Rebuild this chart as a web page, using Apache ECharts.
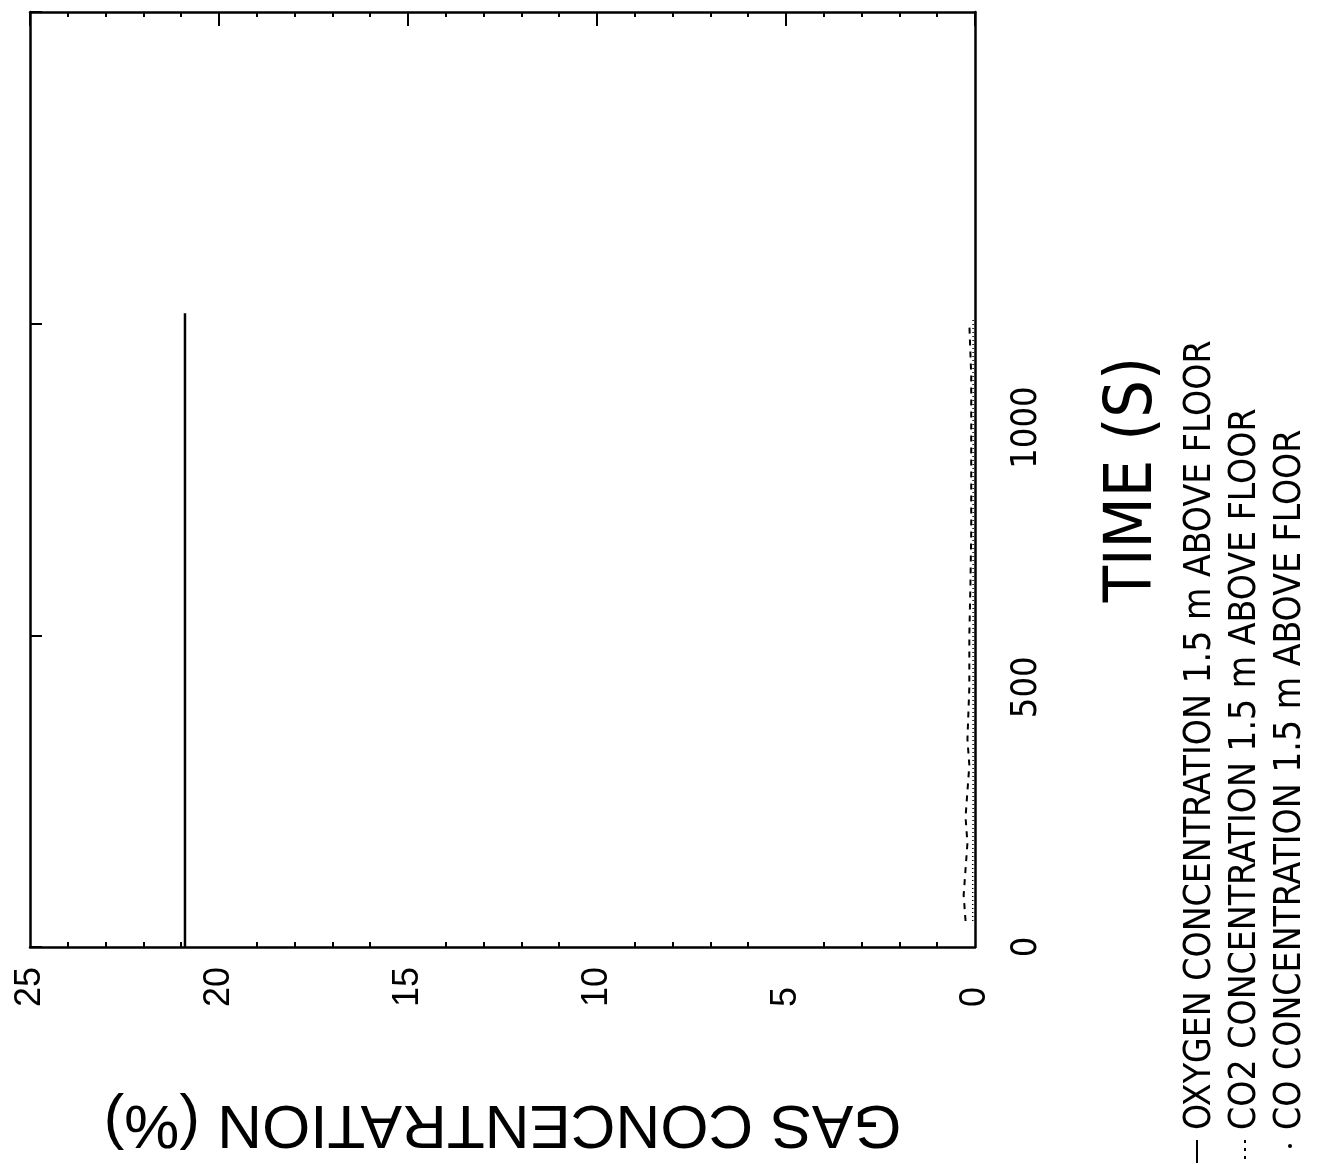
<!DOCTYPE html>
<html>
<head>
<meta charset="utf-8">
<script src="https://cdn.jsdelivr.net/npm/echarts@6/dist/echarts.min.js"></script>
<style>
html,body{margin:0;padding:0;background:#fff;}
#c{width:1322px;height:1165px;}
</style>
</head>
<body>
<div id="c"></div>
<script>
// ---- data (time in s, concentration in %) ----
var o2Time = [0, 100, 200, 300, 400, 500, 600, 700, 800, 900, 1000, 1100, 1220];
var o2Vals = [20.9, 20.9, 20.9, 20.9, 20.9, 20.9, 20.9, 20.9, 20.9, 20.9, 20.9, 20.9, 20.9];
var co2Time = [50, 100, 150, 200, 250, 300, 350, 400, 500, 600, 700, 800, 900, 1000, 1100, 1200];
var co2Vals = [0.25, 0.3, 0.25, 0.2, 0.25, 0.2, 0.15, 0.2, 0.15, 0.15, 0.12, 0.1, 0.1, 0.1, 0.1, 0.15];
var coTime = [50, 150, 250, 350, 450, 550, 650, 750, 850, 950, 1050, 1150, 1210];
var coVals = [0.06, 0.06, 0.05, 0.05, 0.05, 0.05, 0.05, 0.05, 0.05, 0.05, 0.05, 0.05, 0.05];
var concTicks = [0, 5, 10, 15, 20, 25];
var timeTicks = [0, 500, 1000, 1500];
var seriesNames = ['OXYGEN CONCENTRATION 1.5 m ABOVE FLOOR', 'CO2 CONCENTRATION 1.5 m ABOVE FLOOR', 'CO CONCENTRATION 1.5 m ABOVE FLOOR'];

function pairs(t, v) { return t.map(function (x, i) { return [v[i], x]; }); }

var REG = "'Liberation Sans', Arial, sans-serif";
var NAR = "'Liberation Sans Narrow', 'DejaVu Sans Condensed', 'Liberation Sans', sans-serif";

var chart = echarts.init(document.getElementById('c'), null, {renderer: 'canvas'});
var legendX = [1200, 1245, 1290];
var graphics = [
  {type: 'line', shape: {x1: 1197, y1: 1140, x2: 1197, y2: 1163}, style: {stroke: '#000', lineWidth: 2}},
  {type: 'line', shape: {x1: 1245, y1: 1140, x2: 1245, y2: 1163}, style: {stroke: '#000', lineWidth: 2, lineDash: [3, 5]}},
  {type: 'circle', shape: {cx: 1290, cy: 1146, r: 2}, style: {fill: '#000'}}
];
seriesNames.forEach(function (n, i) {
  graphics.push({
    type: 'text', x: legendX[i], y: 1130, rotation: Math.PI / 2,
    style: {text: n, fill: '#000', font: '37px ' + NAR, align: 'left', verticalAlign: 'middle', textAlign: 'left', textVerticalAlign: 'middle'}
  });
});

chart.setOption({
  animation: false,
  backgroundColor: '#fff',
  grid: {left: 30, right: 347, top: 12, bottom: 218, containLabel: false},
  xAxis: [
    {
      type: 'value', position: 'bottom', min: 0, max: 25, interval: 5, inverse: true,
      axisLine: {show: true, onZero: false, lineStyle: {color: '#000', width: 2.5}},
      axisTick: {show: false, inside: true},
      minorTick: {show: true, splitNumber: 5, length: 5, lineStyle: {color: '#000', width: 2}},
      splitLine: {show: false},
      axisLabel: {
        show: true, rotate: 90, align: 'left', verticalAlign: 'middle', margin: 60,
        fontSize: 36, fontFamily: REG, color: '#000',
        customValues: concTicks,
        formatter: function (v) { return String(v); }
      },
      name: 'GAS CONCENTRATION (%)', nameLocation: 'middle', nameRotate: 180, nameGap: 176,
      nameTextStyle: {fontSize: 62, fontFamily: REG, color: '#000', verticalAlign: 'middle', align: 'center'}
    },
    {
      type: 'value', position: 'top', min: 0, max: 25, interval: 5, inverse: true,
      axisLine: {show: true, onZero: false, lineStyle: {color: '#000', width: 2.5}},
      axisTick: {show: true, inside: true, length: 14, lineStyle: {color: '#000', width: 2}},
      minorTick: {show: true, splitNumber: 5, length: 5, lineStyle: {color: '#000', width: 2}},
      splitLine: {show: false},
      axisLabel: {show: false}
    }
  ],
  yAxis: [
    {
      type: 'value', position: 'right', min: 0, max: 1800, interval: 500,
      axisLine: {show: true, onZero: false, lineStyle: {color: '#000', width: 2.5}},
      axisTick: {show: false},
      splitLine: {show: false},
      axisLabel: {
        show: true, rotate: 90, margin: 34, showMaxLabel: false,
        fontSize: 36, fontFamily: NAR, color: '#000',
        customValues: timeTicks,
        formatter: function (v) { return String(v); }
      },
      name: 'TIME (S)', nameLocation: 'middle', nameRotate: 90, nameGap: 126,
      nameTextStyle: {fontSize: 66, fontFamily: NAR, color: '#000'}
    },
    {
      type: 'value', position: 'left', min: 0, max: 1800, interval: 600,
      axisLine: {show: true, onZero: false, lineStyle: {color: '#000', width: 2.5}},
      axisTick: {show: true, inside: true, length: 12, lineStyle: {color: '#000', width: 2}},
      splitLine: {show: false},
      axisLabel: {show: false}
    }
  ],
  graphic: graphics,
  series: [
    {
      name: seriesNames[0], type: 'line', xAxisIndex: 0, yAxisIndex: 0, symbol: 'none',
      lineStyle: {color: '#000', width: 2.5, type: 'solid'}, data: pairs(o2Time, o2Vals)
    },
    {
      name: seriesNames[1], type: 'line', xAxisIndex: 0, yAxisIndex: 0, symbol: 'none',
      lineStyle: {color: '#000', width: 2, type: [6, 6]}, data: pairs(co2Time, co2Vals)
    },
    {
      name: seriesNames[2], type: 'line', xAxisIndex: 0, yAxisIndex: 0, symbol: 'none',
      lineStyle: {color: '#000', width: 1.5, type: [1, 3]}, data: pairs(coTime, coVals)
    }
  ]
});
</script>
</body>
</html>
